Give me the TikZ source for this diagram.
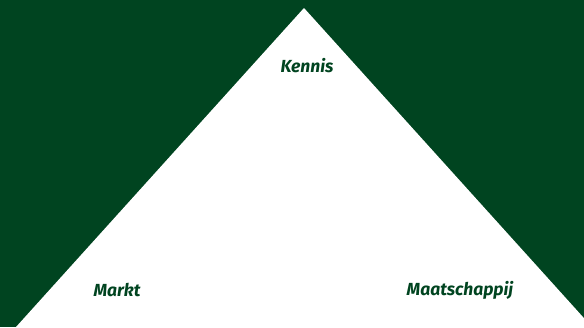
\documentclass[tikz,border=0pt]{standalone}
\usepackage{fontspec}
\setmainfont{Fira Sans}
\definecolor{darkgreen}{RGB}{0,68,32}
\begin{document}
\begin{tikzpicture}[x=1pt,y=-1pt,
  lbl/.style={text=darkgreen,font=\fontsize{17.5}{20}\selectfont\bfseries\itshape,inner sep=0pt,anchor=base}]
\useasboundingbox (0,0) rectangle (584,327);
\fill[darkgreen] (0,0) rectangle (584,327);
\begin{scope}
\clip (0,0) rectangle (584,327);
\fill[white] (304,8) -- (592,327) -- (16,327) -- cycle;
\end{scope}
\node[lbl] (kennis) at (307,72.5) {Kennis};
\node[lbl] (markt) at (117,296.5) {Markt};
\node[lbl] (maat) at (460,295.5) {Maatschappij};
\end{tikzpicture}
\end{document}
